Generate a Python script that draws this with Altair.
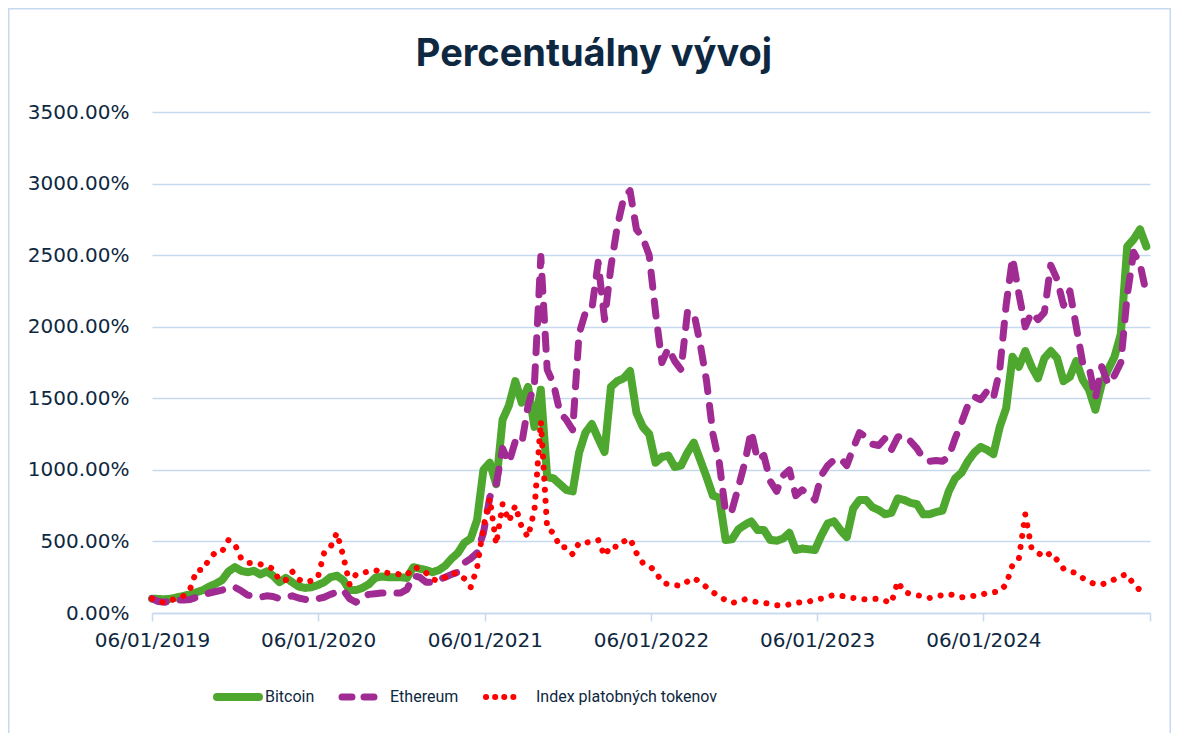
import altair as alt
import pandas as pd

START = "2019-01-06"
N_POINTS = 157  # bi-weekly observations

bitcoin = [
    100, 98, 95, 100, 110, 120, 130, 145, 160, 185,
    205, 230, 290, 320, 295, 285, 295, 270, 290, 260,
    215, 245, 215, 185, 175, 180, 195, 215, 250, 260,
    230, 160, 160, 175, 200, 245, 255, 250, 250, 250,
    245, 320, 310, 300, 285, 300, 330, 380, 420, 490,
    520, 650, 1000, 1050, 900, 1350, 1450, 1620, 1470, 1580,
    1300, 1560, 950, 940, 900, 860, 850, 1120, 1260, 1320,
    1220, 1125, 1580, 1620, 1640, 1690, 1400, 1300, 1250, 1050,
    1090, 1100, 1020, 1030, 1120, 1190, 1070, 950, 820, 805,
    510, 515, 585, 615, 640, 580, 580, 510, 505, 520,
    560, 440, 450, 445, 440, 540, 625, 640, 580, 530,
    730, 790, 790, 740, 720, 690, 700, 800, 790, 770,
    760, 690, 690, 705, 715, 850, 940, 980, 1060, 1120,
    1160, 1140, 1110, 1300, 1430, 1790, 1720, 1830, 1720, 1640,
    1780, 1830, 1780, 1620, 1650, 1760, 1630, 1560, 1420, 1600,
    1700, 1790, 1950, 2560, 2610, 2680, 2560,
]

ethereum = [
    100, 80, 75, 85, 90, 90, 95, 110, 125, 140,
    150, 160, 175, 180, 155, 125, 115, 110, 120, 115,
    100, 110, 120, 105, 95, 90, 100, 110, 130, 145,
    160, 100, 75, 115, 130, 135, 140, 140, 140, 140,
    165, 260, 250, 215, 215, 235, 250, 270, 285, 350,
    380, 420, 560, 810, 900, 1150, 1050, 1200, 1180, 1450,
    1600, 2490, 1700, 1600, 1400, 1350, 1280, 1950, 2100, 2120,
    2450, 2050, 2420, 2700, 2900, 2950, 2680, 2620, 2500, 2100,
    1750, 1850, 1760, 1700, 2100, 2100, 1880, 1620, 1250, 1050,
    700, 720, 880, 1050, 1270, 1070, 1100, 920, 850, 960,
    1000, 820, 860, 830, 790, 960, 1030, 1070, 1080, 1030,
    1150, 1260, 1230, 1180, 1170, 1220, 1140, 1230, 1240, 1200,
    1150, 1080, 1060, 1065, 1060, 1090, 1220, 1330, 1450, 1510,
    1490, 1550, 1500, 1700, 2150, 2480, 2230, 2000, 2100, 2050,
    2100, 2430, 2330, 2150, 2250, 2000, 1750, 1720, 1500, 1720,
    1600, 1660, 1750, 2220, 2520, 2440, 2230,
]

index_tokens = [
    100, 85, 70, 90, 105, 120, 170, 300, 300, 380,
    425, 430, 510, 480, 380, 350, 350, 340, 325, 310,
    225, 230, 290, 235, 215, 225, 245, 420, 460, 560,
    400, 200, 270, 280, 290, 300, 285, 280, 275, 270,
    265, 320, 310, 280, 235, 225, 250, 280, 275, 240,
    180, 315, 600, 800, 480, 760, 640, 750, 600, 530,
    720, 1340, 590, 560, 460, 460, 410, 490, 490, 500,
    510, 400, 470, 460, 500, 520, 420, 350, 330, 290,
    215, 200, 195, 190, 220, 245, 215, 180, 145, 115,
    90, 70, 80, 95, 85, 75, 70, 65, 55, 50,
    60, 70, 75, 78, 95, 100, 115, 125, 120, 115,
    105, 100, 95, 98, 100, 85, 70, 220, 145, 135,
    125, 115, 105, 115, 125, 130, 125, 110, 115, 120,
    125, 140, 145, 150, 200, 335, 380, 690, 450, 420,
    390, 420, 370, 310, 290, 280, 245, 220, 200, 200,
    215, 235, 260, 270, 200, 160, 150,
]

series_names = ["Bitcoin", "Ethereum", "Index platobných tokenov"]
series_colors = ["#4EA72E", "#A02B93", "#FF0000"]
chart_title = "Percentuálny vývoj"
y_ticks = [0, 500, 1000, 1500, 2000, 2500, 3000, 3500]
x_tick_years = [2019, 2020, 2021, 2022, 2023, 2024, 2025]

dates = pd.date_range(START, periods=N_POINTS, freq="14D")
frames = []
for name, vals in zip(series_names, [bitcoin, ethereum, index_tokens]):
    frames.append(pd.DataFrame({"date": dates, "value": vals, "series": name}))
df = pd.concat(frames, ignore_index=True)

TEXT = "#0E2841"
GRID = "#C6D9F0"
W, H = 998, 501
PAD_L, PAD_T, PAD_R, PAD_B = 144, 104, 21, 125
LABEL_FONT = "DejaVu Sans"

x_enc = alt.X(
    "date:T",
    scale=alt.Scale(domain=[alt.DateTime(year=2019, month=1, date=6),
                            alt.DateTime(year=2025, month=1, date=6)]),
    axis=alt.Axis(
        title=None,
        values=[alt.DateTime(year=y, month=1, date=6) for y in x_tick_years],
        labelExpr="year(datum.value) < 2025 ? timeFormat(datum.value, '%d/%m/%Y') : ''",
        grid=False,
        domainColor=GRID, domainWidth=1.5,
        tickColor=GRID, tickWidth=1.5, tickSize=8,
        labelFont=LABEL_FONT, labelFontSize=20, labelColor=TEXT,
        labelPadding=9, labelFlush=False,
    ),
)
y_enc = alt.Y(
    "value:Q",
    scale=alt.Scale(domain=[0, 3500], nice=False),
    axis=alt.Axis(
        title=None,
        values=y_ticks,
        labelExpr="format(datum.value, '.2f') + '%'",
        domain=False, ticks=False,
        grid=True, gridColor=GRID, gridWidth=1.5,
        labelFont=LABEL_FONT, labelFontSize=20, labelColor=TEXT,
        labelPadding=23,
    ),
)

def series_layer(name, color, width, dash):
    return (
        alt.Chart(df)
        .transform_filter(alt.datum.series == name)
        .mark_line(color=color, strokeWidth=width, strokeDash=dash,
                   strokeCap="round", strokeJoin="round")
        .encode(x=x_enc, y=y_enc)
    )

btc = series_layer(series_names[0], series_colors[0], 8, [1, 0])
eth = series_layer(series_names[1], series_colors[1], 7, [15, 14])
idx = series_layer(series_names[2], series_colors[2], 6, [0.1, 11])

one = pd.DataFrame({"a": [0]})
OX = -PAD_L - 8   # page x -> plot x
OY = -PAD_T - 8   # page y -> plot y

# frame around the whole chart
frame = alt.Chart(one).mark_rect(
    fill=None, stroke=GRID, strokeWidth=1.5
).encode(
    x=alt.value(-PAD_L + 0.75), x2=alt.value(W + PAD_R - 0.75),
    y=alt.value(-PAD_T + 0.75), y2=alt.value(H + PAD_B + 20),
)

title = alt.Chart(one).mark_text(
    align="center", baseline="alphabetic", font="Inter", fontSize=38,
    fontWeight="bold", color=TEXT
).encode(x=alt.value(OX + 594), y=alt.value(OY + 66), text=alt.value(chart_title))

# legend (bottom, centred)
LEG_Y = OY + 697
def leg_line(x1, x2, color, width, dash):
    return alt.Chart(one).mark_rule(
        color=color, strokeWidth=width, strokeDash=dash, strokeCap="round"
    ).encode(x=alt.value(OX + x1), x2=alt.value(OX + x2), y=alt.value(LEG_Y))

def leg_text(x, text):
    return alt.Chart(one).mark_text(
        align="left", baseline="middle", font="Roboto",
        fontSize=16, color=TEXT
    ).encode(x=alt.value(OX + x), y=alt.value(LEG_Y), text=alt.value(text))

legend = (
    leg_line(217, 259, series_colors[0], 8, [1, 0])
    + leg_text(265, series_names[0])
    + leg_line(342, 384, series_colors[1], 7, [10, 12])
    + leg_text(390, series_names[1])
    + leg_line(486, 521, series_colors[2], 6, [0.1, 9])
    + leg_text(536, series_names[2])
)

chart = (
    alt.layer(frame, btc, eth, idx, title, legend)
    .properties(
        width=W, height=H,
        padding={"left": PAD_L, "top": PAD_T, "right": PAD_R, "bottom": PAD_B},
        autosize=alt.AutoSizeParams(type="none"),
        background="white",
    )
    .configure_view(stroke=None)
)

chart.save("out.html", embed_options={"renderer": "svg", "actions": False})
